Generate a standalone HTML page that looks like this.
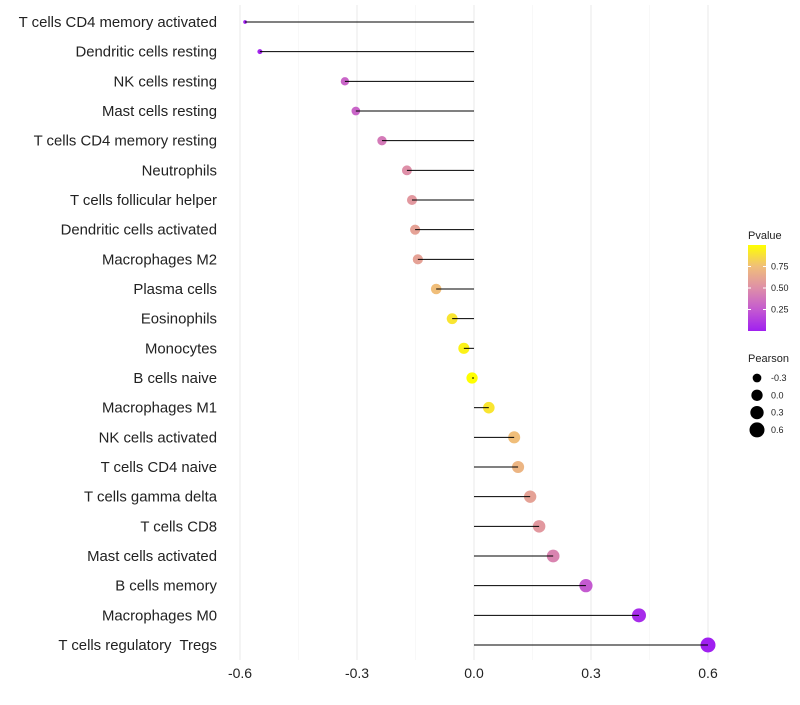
<!DOCTYPE html>
<html><head><meta charset="utf-8"><style>
body{margin:0;background:#fff;font-family:"Liberation Sans",sans-serif}
svg text{font-family:"Liberation Sans",sans-serif;white-space:pre}
</style></head><body>
<svg id="c" width="800" height="700"></svg>
<script>
const categories=["T cells CD4 memory activated","Dendritic cells resting","NK cells resting","Mast cells resting","T cells CD4 memory resting","Neutrophils","T cells follicular helper","Dendritic cells activated","Macrophages M2","Plasma cells","Eosinophils","Monocytes","B cells naive","Macrophages M1","NK cells activated","T cells CD4 naive","T cells gamma delta","T cells CD8","Mast cells activated","B cells memory","Macrophages M0","T cells regulatory  Tregs"];
const pearson=[-0.587,-0.549,-0.331,-0.303,-0.236,-0.172,-0.159,-0.151,-0.144,-0.097,-0.056,-0.026,-0.005,0.038,0.103,0.113,0.144,0.167,0.203,0.287,0.423,0.6];
const pvalue=[0.0,0.02,0.3,0.3,0.4,0.5,0.55,0.6,0.6,0.75,0.9,0.95,1.0,0.9,0.75,0.7,0.6,0.55,0.45,0.25,0.05,0.0];
const xTicks=[-0.6,-0.3,0.0,0.3,0.6];
const xTickLabels=["-0.6","-0.3","0.0","0.3","0.6"];
const pTicks=[0.25,0.5,0.75];
const pTickLabels=["0.25","0.50","0.75"];
const sizeTicks=[-0.3,0.0,0.3,0.6];
const sizeTickLabels=["-0.3","0.0","0.3","0.6"];

const NS="http://www.w3.org/2000/svg";
const svg=document.getElementById('c');
function el(t,a,p){const e=document.createElementNS(NS,t);for(const k in a)e.setAttribute(k,a[k]);(p||svg).appendChild(e);return e;}
const x=v=>474+v*390;
const y=i=>22+i*(623/21);
const rad=v=>1.2+6.3*Math.sqrt(Math.max(0,(v+0.6)/1.2));
const stops=[[0,[160,32,240]],[0.25,[196,90,208]],[0.5,[222,143,168]],[0.75,[240,190,122]],[1,[255,255,0]]];
function col(p){for(let i=1;i<stops.length;i++){if(p<=stops[i][0]){const a=stops[i-1],b=stops[i],t=(p-a[0])/(b[0]-a[0]);return 'rgb('+a[1].map((c,j)=>Math.round(c+(b[1][j]-c)*t)).join(',')+')';}}return 'rgb(255,255,0)';}
const gy=v=>331-v*86;

[-0.75,-0.45,-0.15,0.15,0.45,0.75].forEach(v=>{if(x(v)>225&&x(v)<722){const g=el('line',{x1:x(v),x2:x(v),y1:5,y2:660,stroke:'#f3f3f3','stroke-width':0.6});}});
xTicks.forEach((v,i)=>{const g=el('line',{x1:x(v),x2:x(v),y1:5,y2:660,stroke:'#ebebeb','stroke-width':1.1});
const t=el('text',{x:x(v),y:678,'text-anchor':'middle','font-size':14,fill:'#222'});t.textContent=xTickLabels[i];});
categories.forEach((c,i)=>{
const t=el('text',{x:217,y:y(i)+5,'text-anchor':'end','font-size':14.9,fill:'#222'});t.textContent=c;
const d=el('circle',{cx:x(pearson[i]),cy:y(i),r:rad(pearson[i]),fill:col(pvalue[i])});
const l=el('line',{x1:x(0),x2:x(pearson[i]),y1:y(i),y2:y(i),stroke:'#000','stroke-width':1});
});
const lt=el('text',{x:748,y:239,'font-size':11,fill:'#222'});lt.textContent='Pvalue';
const defs=el('defs',{});const lg=el('linearGradient',{id:'g',x1:0,y1:1,x2:0,y2:0},defs);
stops.forEach(s=>el('stop',{offset:s[0],'stop-color':'rgb('+s[1].join(',')+')'},lg));
const bar=el('rect',{x:748,y:245,width:18,height:86,fill:'url(#g)'});
pTicks.forEach((v,i)=>{el('line',{x1:748,x2:751,y1:gy(v),y2:gy(v),stroke:'#fff'});el('line',{x1:763,x2:766,y1:gy(v),y2:gy(v),stroke:'#fff'});
const t=el('text',{x:771,y:gy(v)+3,'font-size':9,fill:'#222'});t.textContent=pTickLabels[i];});
const st=el('text',{x:748,y:362,'font-size':11,fill:'#222'});st.textContent='Pearson';
sizeTicks.forEach((v,i)=>{const cy=378+i*17.3;const c=el('circle',{cx:757,cy:cy,r:rad(v),fill:'#000'});
const t=el('text',{x:771,y:cy+3,'font-size':9,fill:'#222'});t.textContent=sizeTickLabels[i];});
</script>
</body></html>
